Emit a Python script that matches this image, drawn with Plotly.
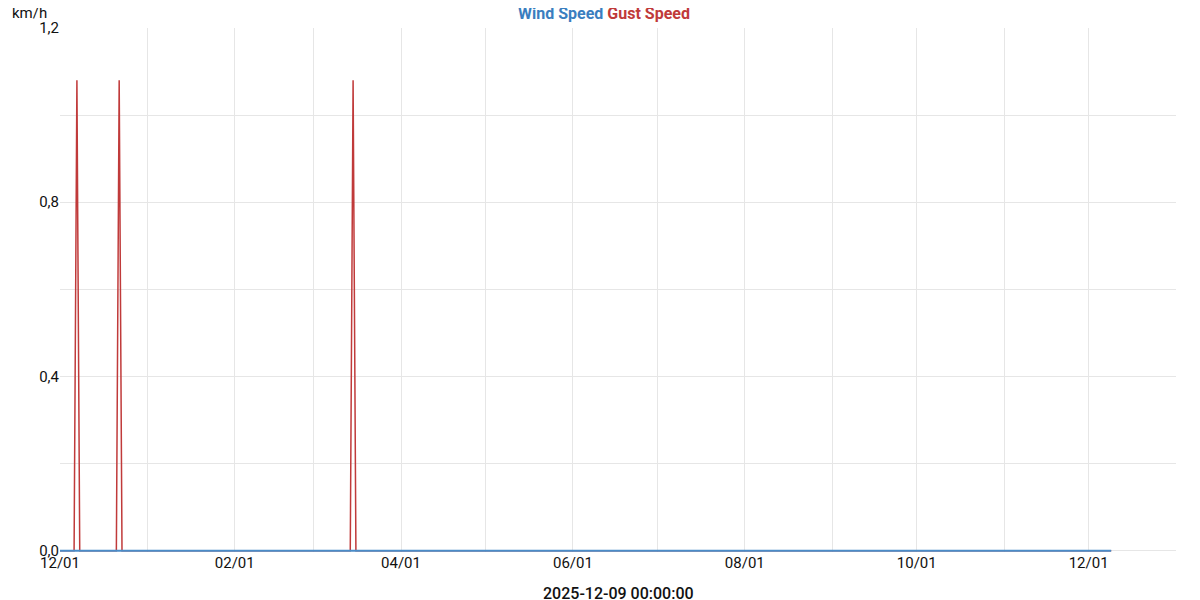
import plotly.graph_objects as go

# Data (daily values, km/h)
wind_dates = ["2024-12-01", "2025-12-09"]
wind_values = [0.0, 0.0]

gust_dates = [
    "2024-12-01", "2024-12-06", "2024-12-07", "2024-12-08",
    "2024-12-21", "2024-12-22", "2024-12-23",
    "2025-03-14", "2025-03-15", "2025-03-16", "2025-12-09",
]
gust_values = [0.0, 0.0, 1.08, 0.0, 0.0, 1.08, 0.0, 0.0, 1.08, 0.0, 0.0]

x_range = ["2024-12-01", "2026-01-01"]
y_range = [-0.003, 1.2]
x_title = "2025-12-09 00:00:00"

BLUE = "#3a7ebf"
RED = "#c03a3a"
FONT = "Roboto"

fig = go.Figure()
fig.add_trace(go.Scatter(x=gust_dates, y=gust_values, mode="lines", name="Gust Speed",
                         line=dict(color=RED, width=1.5)))
fig.add_trace(go.Scatter(x=wind_dates, y=wind_values, mode="lines", name="Wind Speed",
                         line=dict(color="#4a8cc8", width=2)))

# The page body has an 8px default margin, so the figure is 8px smaller
fig.update_layout(
    width=1192, height=592,
    margin=dict(l=52, r=24, t=20, b=48, autoexpand=False),
    paper_bgcolor="white", plot_bgcolor="white",
    showlegend=False,
    separators=",.",
    font=dict(family=FONT, size=15, color="#111"),
    title=dict(
        text=f"<span style='color:{BLUE}'>Wind Speed</span> <span style='color:{RED}'>Gust Speed</span>",
        x=0.5, xanchor="center", y=0.991, yanchor="middle",
        font=dict(family=FONT, size=16, weight="bold"),
    ),
    xaxis=dict(
        type="date", range=x_range, automargin=False,
        dtick="M2", tick0="2024-12-01", tickformat="%m/%d",
        showgrid=True, gridcolor="#e6e6e6", gridwidth=1,
        minor=dict(dtick="M1", showgrid=True, gridcolor="#e6e6e6", gridwidth=1),
        showline=False, zeroline=False, ticks="",
        tickfont=dict(size=15, color="#111"),
    ),
    yaxis=dict(
        range=y_range, tickvals=[0, 0.4, 0.8, 1.2], tickformat=".1f", automargin=False,
        showgrid=True, gridcolor="#e6e6e6", gridwidth=1,
        minor=dict(tickvals=[0.2, 0.6, 1.0], showgrid=True, gridcolor="#e6e6e6", gridwidth=1),
        showline=False, zeroline=False, ticks="",
        tickfont=dict(size=15, color="#111"),
    ),
    annotations=[
        dict(text="km/h", xref="paper", yref="paper", x=-0.045, y=1.029,
             xanchor="left", yanchor="middle", showarrow=False,
             font=dict(size=15, color="#111")),
        dict(text=x_title, xref="paper", yref="paper", x=0.5, y=-0.080,
             xanchor="center", yanchor="middle", showarrow=False,
             font=dict(size=16, color="#111", weight=500)),
    ],
)

fig.write_html("out.html")
